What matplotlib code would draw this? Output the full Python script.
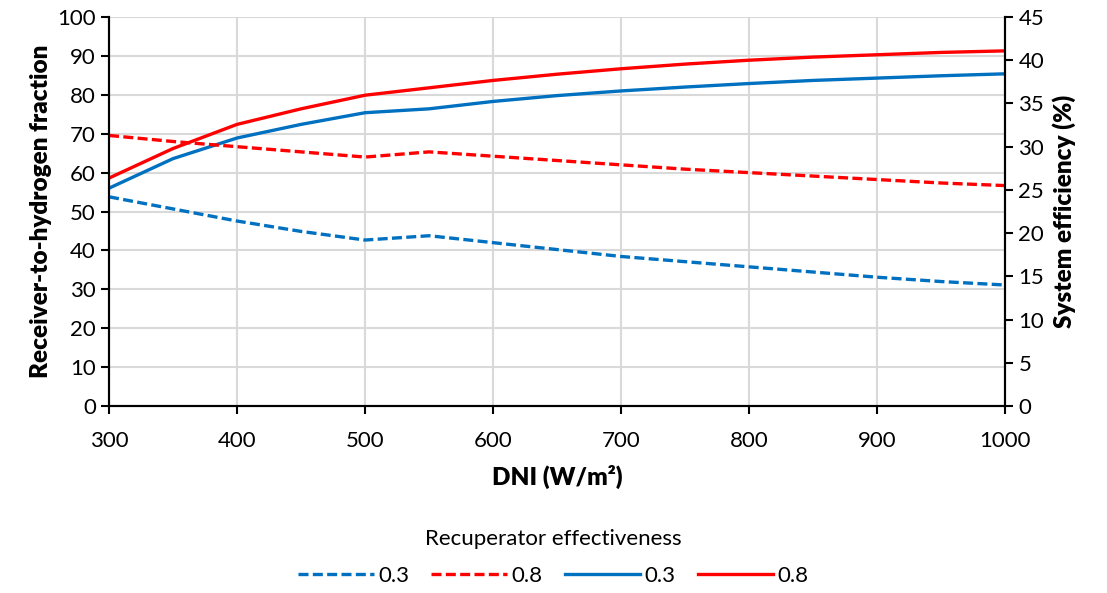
import matplotlib
matplotlib.use("Agg")
import matplotlib.pyplot as plt
from matplotlib.lines import Line2D

plt.rcParams['font.family'] = ['Lato', 'DejaVu Sans']

# DNI values (W/m2)
dni = [300, 350, 400, 450, 500, 550, 600, 650, 700, 750, 800, 850, 900, 950, 1000]

# receiver-to-hydrogen fraction (left axis), solid lines
frac_03 = [56.0, 63.6, 68.9, 72.4, 75.4, 76.4, 78.3, 79.8, 81.0, 82.0, 82.9, 83.7, 84.3, 84.9, 85.4]
frac_08 = [58.6, 66.2, 72.4, 76.4, 79.9, 81.8, 83.7, 85.3, 86.7, 87.9, 88.9, 89.7, 90.3, 90.9, 91.3]

# system efficiency (right axis, %), dashed lines
eff_03 = [24.2, 22.8, 21.4, 20.2, 19.2, 19.7, 18.9, 18.1, 17.3, 16.7, 16.1, 15.5, 14.9, 14.4, 14.0]
eff_08 = [31.3, 30.6, 30.0, 29.4, 28.8, 29.4, 28.9, 28.4, 27.9, 27.4, 27.0, 26.6, 26.2, 25.8, 25.5]

legend_labels = ["0.3", "0.8", "0.3", "0.8"]

blue = "#0070C0"
red = "#FF0000"
lw = 2.4
fs = 16
lfs = 17.5

fig = plt.figure(figsize=(11.07, 5.93), dpi=100)
ax = fig.add_axes([0.0985, 0.3153, 0.8095, 0.656])
ax2 = ax.twinx()

ax.plot(dni, frac_03, color=blue, lw=lw, solid_capstyle='butt')
ax.plot(dni, frac_08, color=red, lw=lw, solid_capstyle='butt')
ax2.plot(dni, eff_03, color=blue, lw=lw, ls=(0, (3, 1.3)), dash_capstyle='butt')
ax2.plot(dni, eff_08, color=red, lw=lw, ls=(0, (3, 1.3)), dash_capstyle='butt')

ax.set_xlim(300, 1000)
ax.set_ylim(0, 100)
ax2.set_ylim(0, 45)
ax.set_xticks(range(300, 1001, 100))
ax.set_yticks(range(0, 101, 10))
ax2.set_yticks(range(0, 46, 5))

ax.grid(True, color="#d9d9d9", lw=1.5)
ax.set_axisbelow(True)

for a in (ax, ax2):
    a.spines['top'].set_visible(False)
    for s in ('left', 'right', 'bottom'):
        a.spines[s].set_linewidth(1.5)
    a.tick_params(direction='out', length=6, width=1.5, labelsize=fs)
ax.tick_params(axis='x', pad=12)

ax.set_xlabel("DNI (W/m²)", fontsize=lfs, fontweight='heavy', labelpad=10)
ax.set_ylabel("Receiver-to-hydrogen fraction", fontsize=lfs, fontweight='heavy', labelpad=4)
ax2.set_ylabel("System efficiency (%)", fontsize=lfs, fontweight='heavy', labelpad=6)

handles = [
    Line2D([], [], color=blue, lw=lw, ls=(0, (3, 1.3))),
    Line2D([], [], color=red, lw=lw, ls=(0, (3, 1.3))),
    Line2D([], [], color=blue, lw=lw),
    Line2D([], [], color=red, lw=lw),
]
leg = fig.legend(handles, legend_labels, loc='lower center', bbox_to_anchor=(0.5, -0.022),
                 ncol=4, frameon=False, fontsize=fs, handlelength=3.4,
                 handletextpad=0.2, columnspacing=1.0,
                 title="Recuperator effectiveness", title_fontsize=fs)
leg._legend_box.sep = 12

fig.savefig("out.png", dpi=100)
